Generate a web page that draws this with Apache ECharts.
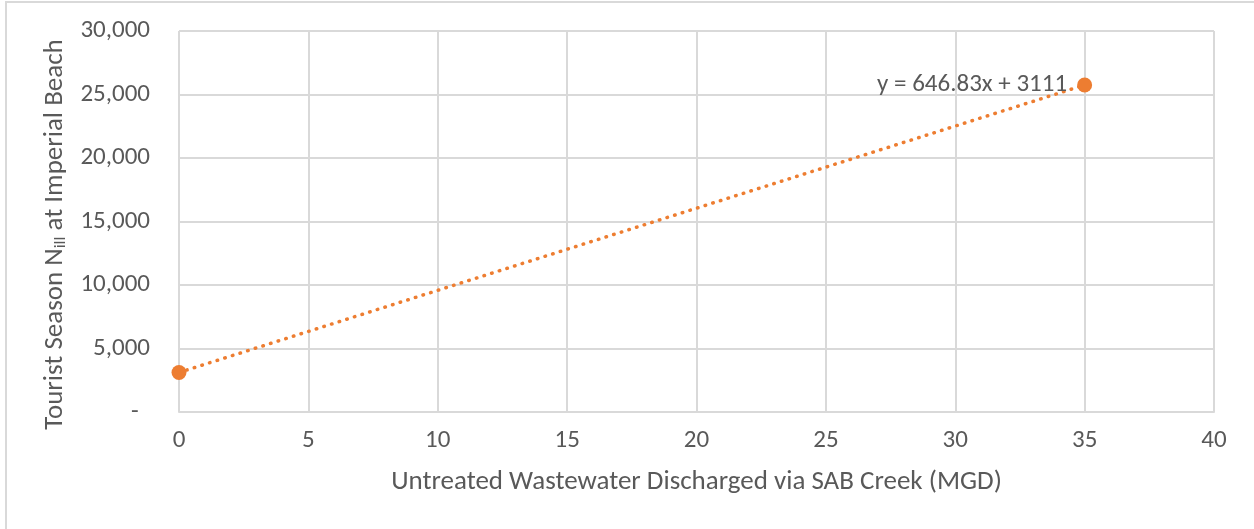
<!DOCTYPE html>
<html>
<head>
<meta charset="utf-8">
<script src="https://cdn.jsdelivr.net/npm/echarts@6/dist/echarts.min.js"></script>
<style>
  html, body { margin: 0; padding: 0; background: #fff; overflow: hidden; }
  #frame { position: absolute; left: 5px; top: 1px; width: 1260px; height: 540px;
           border-top: 2px solid #d9d9d9; border-left: 2px solid #d9d9d9; }
  #chart { position: absolute; left: 0; top: 0; width: 1254px; height: 529px; }
</style>
</head>
<body>
<div id="frame"></div>
<div id="chart"></div>
<script>
// data
var xValues = [0, 35];
var yValues = [3111, 25750];
var equation = 'y = 646.83x + 3111';

var points = [];
for (var i = 0; i < xValues.length; i++) {
  points.push([xValues[i], yValues[i]]);
}

var myChart = echarts.init(document.getElementById('chart'));
var textColor = '#595959';
var font = 'Carlito, Calibri, "Liberation Sans", sans-serif';

var option = {
  animation: false,
  grid: { left: 179, right: 40, top: 31, bottom: 117 },
  xAxis: {
    type: 'value',
    min: 0, max: 40, interval: 5,
    name: 'Untreated Wastewater Discharged via SAB Creek (MGD)',
    nameLocation: 'middle',
    nameGap: 57,
    nameTextStyle: { color: textColor, fontSize: 27, fontFamily: font },
    axisLine: { show: true, lineStyle: { color: '#d9d9d9', width: 2 } },
    axisTick: { show: false },
    axisLabel: { color: textColor, fontSize: 25, fontFamily: font, margin: 16 },
    splitLine: { show: true, lineStyle: { color: '#d9d9d9', width: 2 } }
  },
  yAxis: {
    type: 'value',
    min: 0, max: 30000, interval: 5000,
    name: '{n|Tourist Season N}{s|ill}{n| at Imperial Beach}',
    nameLocation: 'middle',
    nameGap: 104,
    nameTextStyle: {
      color: textColor, fontFamily: font,
      padding: [0, 26, 0, 0],
      rich: {
        n: { fontSize: 27, color: textColor, fontFamily: font },
        s: { fontSize: 17, color: textColor, fontFamily: font, padding: [12, 0, 0, 0] }
      }
    },
    axisLine: { show: false },
    axisTick: { show: false },
    axisLabel: {
      color: textColor, fontSize: 25, fontFamily: font, margin: 29,
      formatter: function (v) { return v === 0 ? '-  ' : v.toLocaleString('en-US'); }
    },
    splitLine: { show: true, lineStyle: { color: '#d9d9d9', width: 2 } }
  },
  series: [
    {
      type: 'line',
      data: points,
      symbol: 'none',
      silent: true,
      lineStyle: { color: '#ed7d31', width: 3.5, type: [0.5, 7.5], cap: 'round' },
      z: 2
    },
    {
      type: 'scatter',
      data: points,
      symbolSize: 15,
      itemStyle: { color: '#ed7d31', opacity: 1 },
      z: 3,
      label: {
        show: true,
        position: 'left',
        distance: 10,
        color: textColor,
        fontSize: 25,
        fontFamily: font,
        formatter: function (p) { return p.dataIndex === 1 ? equation : ''; }
      }
    }
  ]
};
myChart.setOption(option);
</script>
</body>
</html>
